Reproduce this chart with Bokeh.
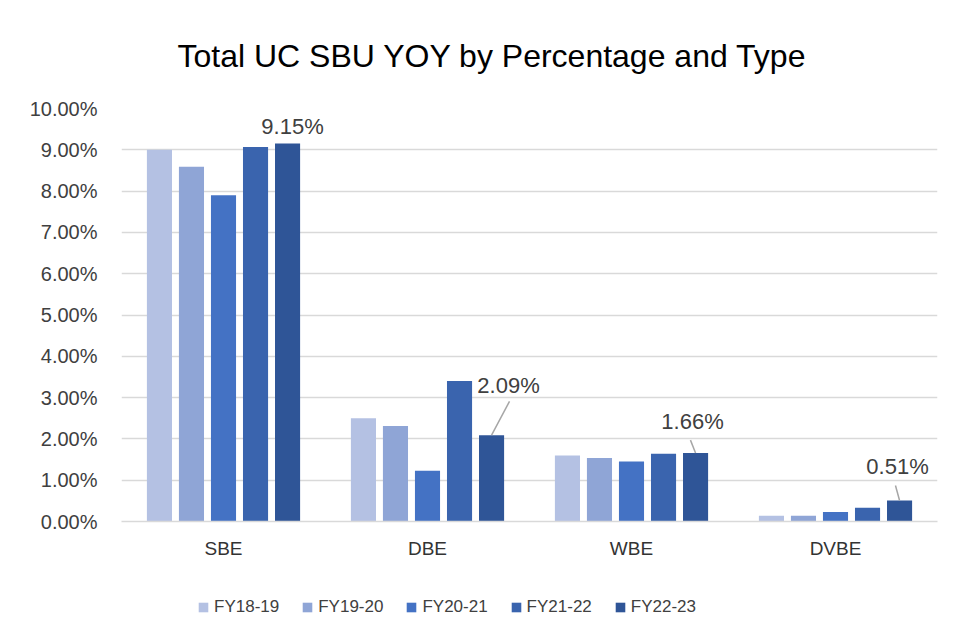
from bokeh.plotting import figure
from bokeh.layouts import column
from bokeh.models import (ColumnDataSource, PrintfTickFormatter, Legend, LegendItem,
                          FixedTicker, Range1d)
from bokeh.transform import dodge
from bokeh.embed import file_html
from bokeh.resources import INLINE
from bokeh.core.properties import value

# ---- data ----
categories = ["SBE", "DBE", "WBE", "DVBE"]
years = ["FY18-19", "FY19-20", "FY20-21", "FY21-22", "FY22-23"]
fy18_19 = [9.00, 2.50, 1.60, 0.14]
fy19_20 = [8.59, 2.31, 1.54, 0.14]
fy20_21 = [7.90, 1.23, 1.45, 0.23]
fy21_22 = [9.07, 3.40, 1.64, 0.33]
fy22_23 = [9.15, 2.09, 1.66, 0.51]
y_ticks = [0, 1, 2, 3, 4, 5, 6, 7, 8, 9, 10]
title_text = "Total UC SBU YOY by Percentage and Type"

series = [fy18_19, fy19_20, fy20_21, fy21_22, fy22_23]
colors = ["#B4C1E3", "#8FA5D6", "#4472C4", "#3A64AE", "#2F5597"]
offsets = [-0.314, -0.157, 0.0, 0.157, 0.314]
FONT = "Liberation Sans"

data = {"cat": categories}
for y, s in zip(years, series):
    data[y] = s
src = ColumnDataSource(data)

p = figure(width=950, height=580, x_range=categories, y_range=Range1d(0, 10),
           output_backend="svg", toolbar_location=None,
           min_border_left=121, min_border_right=13, min_border_top=106,
           min_border_bottom=59)
p.outline_line_color = None
p.background_fill_color = "white"
p.border_fill_color = "white"

p.title.text = title_text
p.title.align = "left"
p.title.offset = 56
p.title.text_font = FONT
p.title.text_font_size = "32px"
p.title.text_font_style = "normal"
p.title.text_color = "#000000"
p.title.standoff = 70

renderers = []
for y, c, off in zip(years, colors, offsets):
    r = p.vbar(x=dodge("cat", off, range=p.x_range), top=y, width=0.123,
               source=src, fill_color=c, line_color=None)
    renderers.append(r)

# data labels for last series
lab_dx = [5, 17, -3, -2]
lab_dy = [-17, -50, -31, -34]
lab_src = ColumnDataSource(dict(cat=categories, val=fy22_23,
                                txt=["%.2f%%" % v for v in fy22_23],
                                dx=lab_dx, dy=lab_dy))
p.text(x=dodge("cat", 0.314, range=p.x_range), y="val", text="txt", source=lab_src,
       x_offset="dx", y_offset="dy", text_align="center", text_baseline="middle",
       text_font=value(FONT), text_font_size="22px", text_color="#404040")

# leader lines (category index + offset in synthetic coordinates)
lead_cats = ["DBE", "WBE", "DVBE"]
lead_dx = [0.088, -0.025, -0.02]
lead_dy = [0.82, 0.31, 0.36]
x0 = [categories.index(c) + 0.5 + 0.314 for c in lead_cats]
y0 = [fy22_23[categories.index(c)] for c in lead_cats]
lead_src = ColumnDataSource(dict(x0=x0, y0=y0,
                                 x1=[a + b for a, b in zip(x0, lead_dx)],
                                 y1=[a + b for a, b in zip(y0, lead_dy)]))
p.segment(x0="x0", y0="y0", x1="x1", y1="y1", source=lead_src,
          line_color="#a6a6a6", line_width=1.5)

# axes
p.yaxis.ticker = FixedTicker(ticks=y_ticks)
p.yaxis.formatter = PrintfTickFormatter(format="%.2f%%")
p.yaxis.axis_line_color = None
p.yaxis.major_tick_line_color = None
p.yaxis.minor_tick_line_color = None
p.yaxis.major_label_text_font = FONT
p.yaxis.major_label_text_font_size = "20px"
p.yaxis.major_label_text_color = "#404040"
p.yaxis.major_label_standoff = 18

p.xaxis.axis_line_color = "#d9d9d9"
p.xaxis.axis_line_width = 1.5
p.xaxis.major_tick_line_color = None
p.xaxis.minor_tick_line_color = None
p.xaxis.major_label_text_font = FONT
p.xaxis.major_label_text_font_size = "19px"
p.xaxis.major_label_text_color = "#333333"
p.xaxis.major_label_standoff = 10

p.xgrid.grid_line_color = None
p.ygrid.grid_line_color = "#d9d9d9"
p.ygrid.grid_line_width = 1.5

# ---- legend strip (separate figure so the legend is not clipped) ----
# its swatch renderers reuse the real data but fall outside the strip's y range
lg = figure(width=950, height=50, x_range=categories, y_range=Range1d(100, 101),
            output_backend="svg", toolbar_location=None,
            min_border=0, outline_line_color=None)
lg.axis.visible = False
lg.grid.visible = False
swatches = []
for y, c in zip(years, colors):
    swatches.append(lg.vbar(x="cat", top=y, width=0.1, source=src,
                            fill_color=c, line_color=None))

legend = Legend(items=[LegendItem(label=y, renderers=[r]) for y, r in zip(years, swatches)],
                orientation="horizontal", location=(76, 13))
legend.label_text_font = FONT
legend.label_text_font_size = "17px"
legend.label_text_color = "#404040"
legend.glyph_width = 12
legend.glyph_height = 12
legend.label_standoff = 5
legend.spacing = 22
legend.border_line_color = None
legend.background_fill_alpha = 0
legend.margin = 0
legend.padding = 0
lg.add_layout(legend)

layout = column(p, lg, spacing=0)
open("out.html", "w").write(file_html(layout, INLINE))
